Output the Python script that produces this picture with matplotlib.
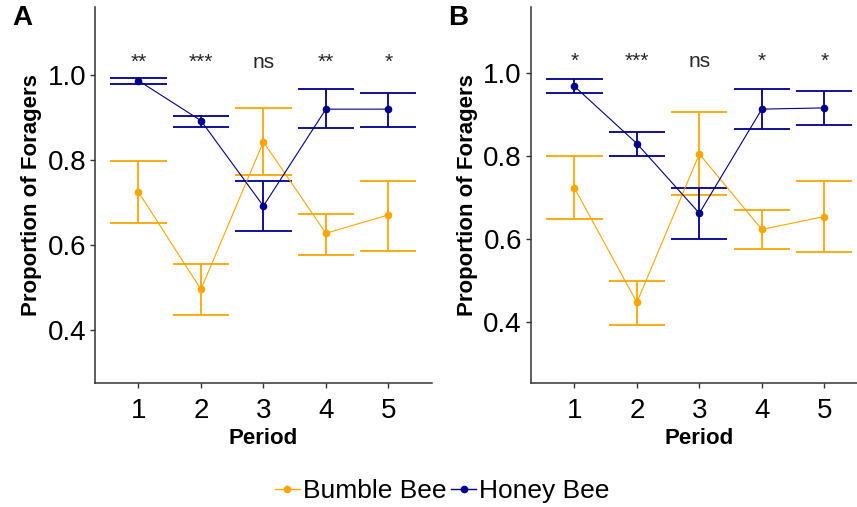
"""Proportion of foragers per period for bumble bees and honey bees (panels A and B)."""

import matplotlib

matplotlib.use("Agg")
import matplotlib.pyplot as plt
from matplotlib.lines import Line2D

plt.rcParams["font.family"] = ["Liberation Sans", "DejaVu Sans"]

PERIODS = [1, 2, 3, 4, 5]

# panel A
A_BUMBLE_MEAN = [0.725, 0.496, 0.843, 0.628, 0.671]
A_BUMBLE_LOW = [0.651, 0.435, 0.765, 0.576, 0.587]
A_BUMBLE_HIGH = [0.798, 0.556, 0.923, 0.674, 0.751]
A_HONEY_MEAN = [0.987, 0.893, 0.692, 0.920, 0.920]
A_HONEY_LOW = [0.980, 0.879, 0.634, 0.876, 0.879]
A_HONEY_HIGH = [0.994, 0.904, 0.752, 0.967, 0.958]
A_SIGNIF = ["**", "***", "ns", "**", "*"]

# panel B
B_BUMBLE_MEAN = [0.724, 0.448, 0.806, 0.624, 0.655]
B_BUMBLE_LOW = [0.648, 0.393, 0.707, 0.577, 0.569]
B_BUMBLE_HIGH = [0.800, 0.500, 0.907, 0.672, 0.740]
B_HONEY_MEAN = [0.969, 0.831, 0.663, 0.914, 0.917]
B_HONEY_LOW = [0.953, 0.800, 0.600, 0.866, 0.876]
B_HONEY_HIGH = [0.986, 0.859, 0.724, 0.962, 0.957]
B_SIGNIF = ["*", "***", "ns", "*", "*"]

Y_TICKS = [0.4, 0.6, 0.8, 1.0]
SERIES_NAMES = ["Bumble Bee", "Honey Bee"]
SERIES_COLORS = {"Bumble Bee": "#FFA500", "Honey Bee": "#00008B"}
AXIS_GREY = "#333333"


def draw_series(axis, means, lows, highs, color):
    """One series: error bars with caps, connecting line and points."""
    cap = 0.45
    axis.vlines(PERIODS, lows, highs, color=color, linewidth=1.3, zorder=2)
    axis.hlines(lows, [p - cap for p in PERIODS], [p + cap for p in PERIODS],
                color=color, linewidth=1.3, zorder=2)
    axis.hlines(highs, [p - cap for p in PERIODS], [p + cap for p in PERIODS],
                color=color, linewidth=1.3, zorder=2)
    axis.plot(PERIODS, means, color=color, linewidth=0.8, zorder=3)
    axis.plot(PERIODS, means, "o", color=color, markersize=4.5, zorder=4)


def draw_panel(axis, series, signif, ylim, letter):
    for name, (means, lows, highs) in zip(SERIES_NAMES, series):
        draw_series(axis, means, lows, highs, SERIES_COLORS[name])

    for period, label in zip(PERIODS, signif):
        axis.text(period, 1.029, label, ha="center", va="center",
                  fontsize=15, color="#262626")

    axis.set_xlim(0.305, 5.695)
    axis.set_ylim(*ylim)
    axis.set_xticks(PERIODS)
    axis.set_yticks(Y_TICKS)
    axis.set_yticklabels([f"{v:.1f}" for v in Y_TICKS])
    axis.tick_params(axis="both", labelsize=20, colors=AXIS_GREY, labelcolor="black",
                     length=3.5, width=1.0)
    axis.tick_params(axis="x", pad=7)
    axis.tick_params(axis="y", pad=3)
    for side in ("top", "right"):
        axis.spines[side].set_visible(False)
    for side in ("left", "bottom"):
        axis.spines[side].set_color(AXIS_GREY)
        axis.spines[side].set_linewidth(1.1)
    axis.set_xlabel("Period", fontsize=16, fontweight="bold", labelpad=3)
    axis.set_ylabel("Proportion of Foragers", fontsize=16, fontweight="bold", labelpad=4)
    axis.text(-0.245, 1.005, letter, transform=axis.transAxes, fontsize=20,
              fontweight="bold", ha="left", va="top")


def main():
    figure = plt.figure(figsize=(8.57, 5.07), dpi=100)
    ax_a = figure.add_axes([0.1109, 0.2440, 0.3929, 0.7428])
    ax_b = figure.add_axes([0.6196, 0.2440, 0.3929, 0.7428])

    draw_panel(
        ax_a,
        [(A_BUMBLE_MEAN, A_BUMBLE_LOW, A_BUMBLE_HIGH), (A_HONEY_MEAN, A_HONEY_LOW, A_HONEY_HIGH)],
        A_SIGNIF, (0.275, 1.161), "A",
    )
    draw_panel(
        ax_b,
        [(B_BUMBLE_MEAN, B_BUMBLE_LOW, B_BUMBLE_HIGH), (B_HONEY_MEAN, B_HONEY_LOW, B_HONEY_HIGH)],
        B_SIGNIF, (0.253, 1.161), "B",
    )

    handles = [
        Line2D([], [], color=SERIES_COLORS[name], linewidth=1.0, marker="o", markersize=4.5)
        for name in SERIES_NAMES
    ]
    figure.legend(handles, SERIES_NAMES, loc="center", bbox_to_anchor=(0.516, 0.032),
                  ncol=2, frameon=False, fontsize=19, handlelength=0.95,
                  handletextpad=0.1, columnspacing=0.2)

    figure.savefig("out.png", dpi=100)
    plt.close(figure)


if __name__ == "__main__":
    main()
